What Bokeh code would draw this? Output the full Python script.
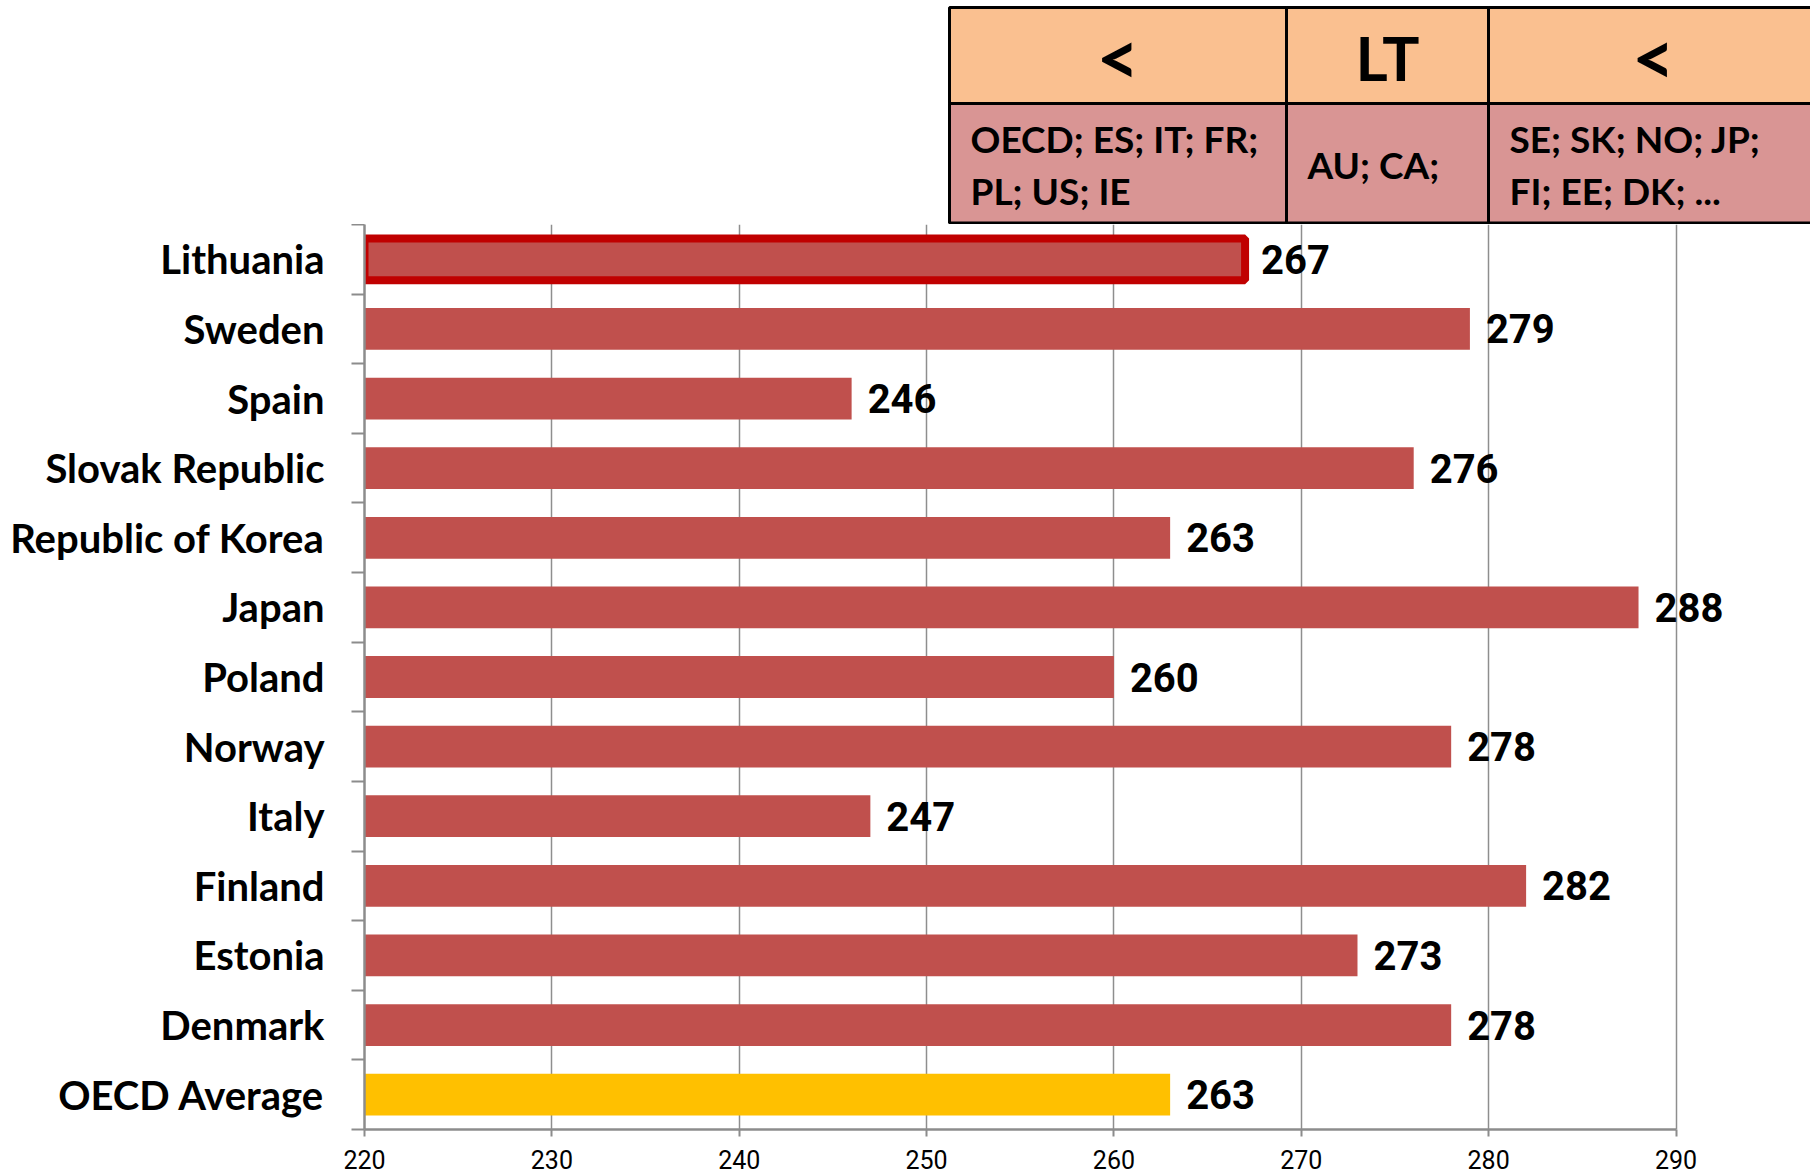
from bokeh.plotting import figure
from bokeh.models import Range1d, FixedTicker, ColumnDataSource, LabelSet
from bokeh.layouts import column
from bokeh.embed import file_html
from bokeh.resources import INLINE
from bokeh.core.properties import value

# ---------------- data ----------------
countries = ["Lithuania", "Sweden", "Spain", "Slovak Republic", "Republic of Korea",
             "Japan", "Poland", "Norway", "Italy", "Finland", "Estonia", "Denmark",
             "OECD Average"]
scores = [267, 279, 246, 276, 263, 288, 260, 278, 247, 282, 273, 278, 263]
highlight = "Lithuania"
average = "OECD Average"
x_ticks = [220, 230, 240, 250, 260, 270, 280, 290]

table_headers = ["<", "LT", "<"]
table_cells = ["OECD; ES; IT; FR;\nPL; US; IE", "AU; CA;", "SE; SK; NO; JP;\nFI; EE; DK; ..."]

BAR = "#C0504D"
AVG = "#FFC000"
HL = "#C00000"
GRID = "#8E8E8E"
AXIS = "#8C8C8C"
LABEL_FONT = "Lato"
NUM_FONT = "Roboto"

W, H = 1810, 1174
TOP_H = 224
LEFT = 364
PX_PER_UNIT = (1675.5 - LEFT) / (x_ticks[-1] - x_ticks[0])
x_end = x_ticks[0] + (W - LEFT) / PX_PER_UNIT

# ---------------- top strip with the comparison table ----------------
top = figure(width=W, height=TOP_H, x_range=Range1d(LEFT, W), y_range=Range1d(TOP_H, 0),
             output_backend="svg", toolbar_location=None,
             x_axis_location=None, y_axis_location=None,
             min_border_left=LEFT, min_border_right=0, min_border_top=0, min_border_bottom=0)
top.outline_line_color = None
top.grid.visible = False

col_left = [949, 1286, 1488]
col_right = [1286, 1488, 1818]
top.quad(left=col_left, right=col_right, top=[7] * 3, bottom=[103] * 3,
         fill_color="#FAC090", line_color="black", line_width=3)
top.quad(left=col_left, right=col_right, top=[103] * 3, bottom=[222.5] * 3,
         fill_color="#D99594", line_color="black", line_width=3)
head_src = ColumnDataSource(dict(
    x=[(l + r) / 2 for l, r in zip(col_left, col_right)], y=[56] * 3, text=table_headers,
    size=["74px" if h == "<" else "62px" for h in table_headers]))
top.text(x="x", y="y", text="text", source=head_src, text_align="center",
         text_baseline="middle", text_font=value(LABEL_FONT), text_font_style="bold",
         text_font_size="size", text_color="black")
top.text(x=[l + 21 for l in col_left], y=[164] * 3, text=table_cells,
         text_align="left", text_baseline="middle", text_line_height=1.15,
         text_font=value(LABEL_FONT), text_font_style="bold", text_font_size="37px",
         text_color="black")

# ---------------- main chart ----------------
pos = list(range(len(countries)))
colors = [AVG if c == average else BAR for c in countries]
src = ColumnDataSource(dict(y=pos, right=scores, color=colors,
                            label=[str(s) for s in scores], name=countries))

p = figure(width=W, height=H - TOP_H, x_range=Range1d(x_ticks[0], x_end),
           y_range=Range1d(len(countries) - 0.5, -0.5),
           output_backend="svg", toolbar_location=None,
           min_border_left=LEFT, min_border_right=0, min_border_top=0, min_border_bottom=45)
p.outline_line_color = None

p.hbar(y="y", left=x_ticks[0], right="right", height=0.6, fill_color="color",
       line_color=None, source=src)
hi = [i for i, c in enumerate(countries) if c == highlight]
p.hbar(y=[pos[i] for i in hi], left=x_ticks[0], right=[scores[i] for i in hi], height=0.6,
       fill_color=BAR, line_color=HL, line_width=8)

labels = LabelSet(x="right", y="y", text="label", source=src, x_offset=16,
                  text_baseline="middle", text_align="left",
                  text_font=value(NUM_FONT), text_font_style="bold",
                  text_font_size="40px", text_color="black")
p.add_layout(labels)

# x axis
p.xaxis.ticker = FixedTicker(ticks=x_ticks)
p.xaxis.bounds = (x_ticks[0], x_ticks[-1])
p.xaxis.axis_line_color = AXIS
p.xaxis.axis_line_width = 2.5
p.xaxis.major_tick_line_color = AXIS
p.xaxis.major_tick_line_width = 2
p.xaxis.major_tick_out = 7
p.xaxis.major_tick_in = 0
p.xaxis.minor_tick_line_color = None
p.xaxis.major_label_text_font = NUM_FONT
p.xaxis.major_label_text_font_size = "25px"
p.xaxis.major_label_text_color = "black"
p.xaxis.major_label_standoff = 13

p.xgrid.ticker = FixedTicker(ticks=x_ticks)
p.xgrid.grid_line_color = GRID
p.xgrid.grid_line_width = 1.5
p.ygrid.visible = False

# y axis: labels at bar centres, ticks on category boundaries
p.yaxis.ticker = FixedTicker(ticks=pos, minor_ticks=[i - 0.5 for i in range(len(countries) + 1)])
p.yaxis.major_label_overrides = {i: c for i, c in zip(pos, countries)}
p.yaxis.axis_line_color = AXIS
p.yaxis.axis_line_width = 2.5
p.yaxis.major_tick_out = 0
p.yaxis.major_tick_in = 0
p.yaxis.minor_tick_out = 13
p.yaxis.minor_tick_in = 0
p.yaxis.minor_tick_line_color = AXIS
p.yaxis.minor_tick_line_width = 2
p.yaxis.major_label_text_font = LABEL_FONT
p.yaxis.major_label_text_font_style = "bold"
p.yaxis.major_label_text_font_size = "40px"
p.yaxis.major_label_text_color = "black"
p.yaxis.major_label_standoff = 27

layout = column(top, p, spacing=0)
open("out.html", "w").write(file_html(layout, INLINE))
